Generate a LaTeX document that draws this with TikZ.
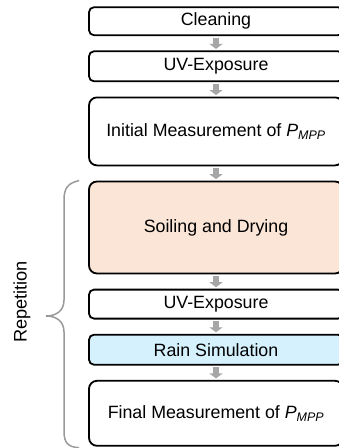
\documentclass[tikz,border=0pt]{standalone}
\usepackage{fontspec}
\setmainfont{Liberation Sans}
\usetikzlibrary{matrix}
\usetikzlibrary{arrows.meta}
\usetikzlibrary{calc}

\definecolor{soilfill}{HTML}{FBE5D6}
\definecolor{rainfill}{HTML}{D5F1FD}
\definecolor{flowgray}{HTML}{A6A6A6}
\definecolor{bracegray}{HTML}{999999}

\tikzset{
  stepbox/.style={draw, line width=1.8pt, rounded corners=5pt, minimum width=254pt, inner sep=2pt,
    font=\fontsize{17.8}{20}\selectfont},
  bigbox/.style={rounded corners=8pt},
  flow/.style={draw=flowgray, line width=6.5pt, shorten <=1.5pt, shorten >=1.5pt,
    -{Triangle[width=13pt,length=5pt]}},
}

\begin{document}
\begin{tikzpicture}[x=1pt,y=-1pt]
      \clip (0,0) rectangle (339,448);
      \matrix(m)[matrix of nodes, nodes={stepbox}, row sep=14.3pt] at (216,226.5) {
        |[minimum height=28pt]| Cleaning \\
        |[minimum height=30pt]| UV-Exposure \\
        |[bigbox,minimum height=68pt]| Initial Measurement of \textit{P}\textsubscript{\itshape MPP} \\
        |[bigbox,fill=soilfill,minimum height=92pt]| Soiling and Drying \\
        |[minimum height=29pt]| UV-Exposure \\
        |[fill=rainfill,minimum height=30pt]| Rain Simulation \\
        |[bigbox,minimum height=65pt]| Final Measurement of \textit{P}\textsubscript{\itshape MPP} \\};
      \foreach \i [evaluate=\i as \j using int(\i+1)] in {1,...,6}
        \draw[flow] (m-\i-1.south) -- (m-\j-1.north);

      % repetition brace
      \coordinate (tip) at (46,316);
      \draw[bracegray, line width=1.5pt]
        ($(m-4-1.north west)+(-9,0)$) .. controls (68,183) and (64,188) .. (64,200)
        -- (64,300) .. controls (64,311) and (56,316) .. (tip)
        .. controls (56,316) and (64,321) .. (64,332)
        -- (64,431) .. controls (64,443) and (68,447) .. ($(m-7-1.south west)+(-9,1)$);
      \node[rotate=90, font=\fontsize{18.2}{20}\selectfont] (rep) at (22,302) {Repetition};
    \end{tikzpicture}
\end{document}
